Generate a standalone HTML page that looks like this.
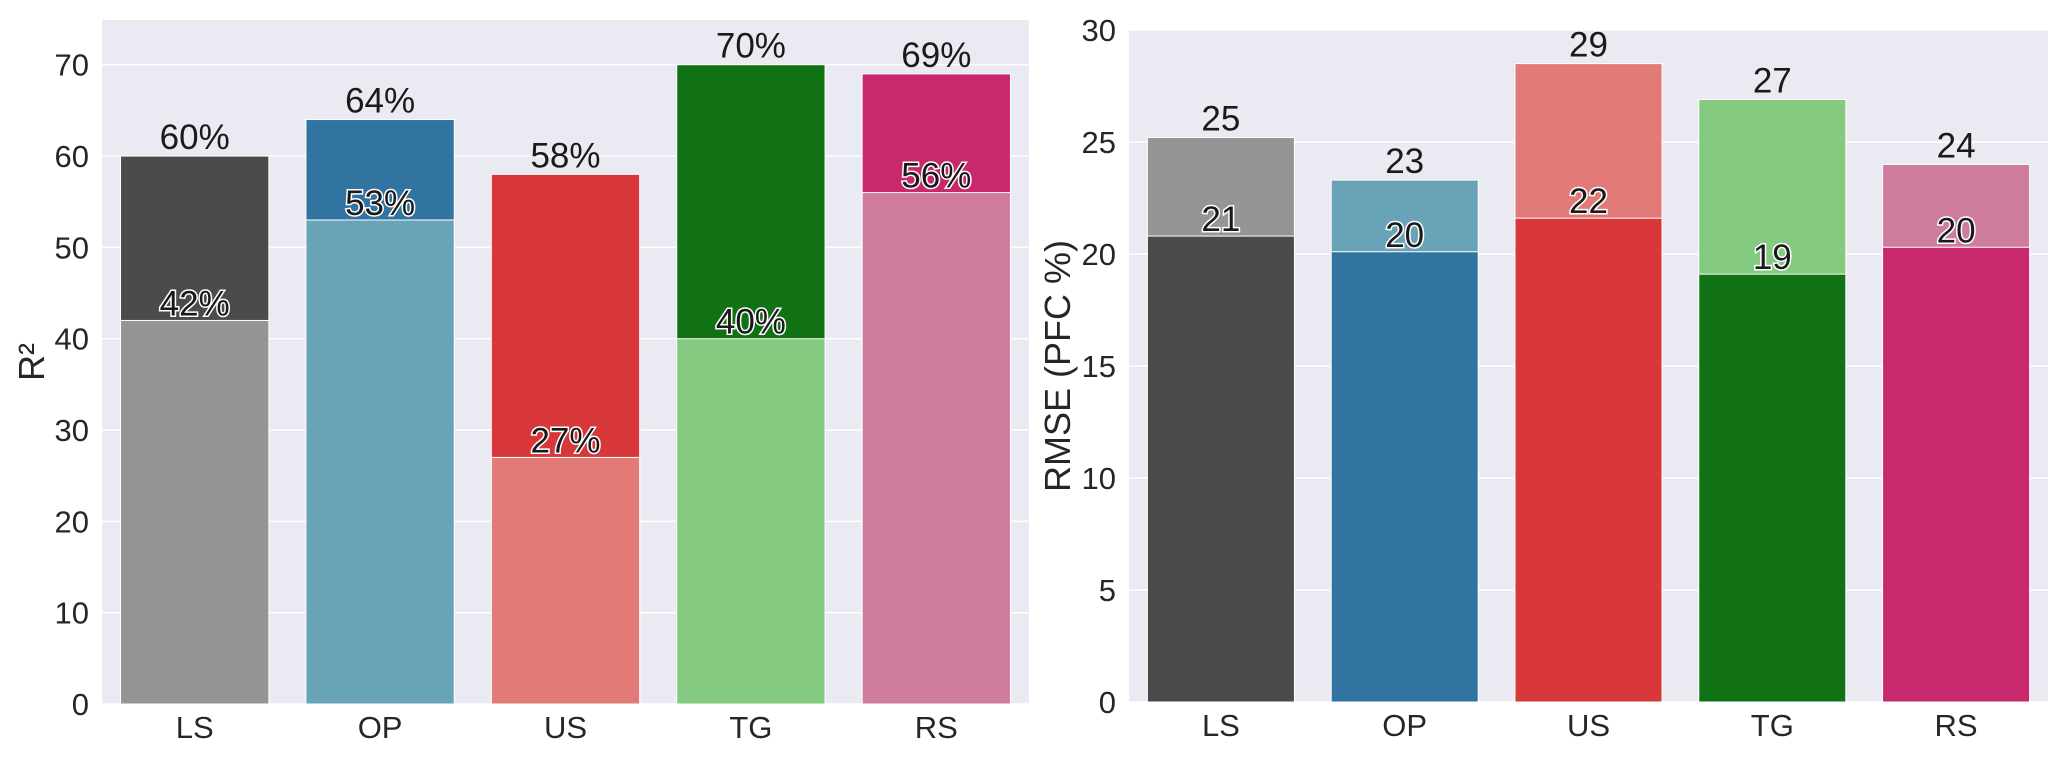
<!DOCTYPE html>
<html><head><meta charset="utf-8"><style>
html,body{margin:0;padding:0;background:#fff;}
svg{display:block;font-family:"Liberation Sans",Arial,sans-serif;}
</style></head><body>
<svg id="chart" width="2067" height="757" viewBox="0 0 2067 757" xmlns="http://www.w3.org/2000/svg"></svg>
<script>
const categories = ["LS","OP","US","TG","RS"];
const r2Top = [60,64,58,70,69];
const r2Bottom = [42,53,27,40,56];
const rmseTall = [25.2,23.3,28.5,26.9,24.0];
const rmseShort = [20.8,20.1,21.6,19.1,20.3];
const r2Ticks = [0,10,20,30,40,50,60,70];
const rmseTicks = [0,5,10,15,20,25,30];

const darkColors = ["#4b4b4b","#3274a1","#d9383a","#107214","#c8286c"];
const lightColors = ["#959595","#69a3b7","#e27b78","#84ca81","#cf7c9e"];
const NS="http://www.w3.org/2000/svg";
const svg=document.getElementById('chart');
function mk(tag,attrs,parent){const e=document.createElementNS(NS,tag);for(const k in attrs)e.setAttribute(k,attrs[k]);(parent||svg).appendChild(e);return e;}

function panel(p){
  const g=mk('g',{});
  
  
  const W=p.x1-p.x0,H=p.yb-p.yt;
  const y=v=>p.yb-(v/p.ymax)*H;
  const slot=W/categories.length;
  const xc=i=>p.x0+slot*(i+0.5);
  const bg=mk('rect',{x:p.x0,y:p.yt,width:W,height:H,fill:'#eaeaf2'},g);
  
  
  p.ticks.forEach(t=>{
    const ln=mk('line',{x1:p.x0,x2:p.x1,y1:y(t),y2:y(t),stroke:'#fff','stroke-width':1.5},g);
    
    
    const tx=mk('text',{x:p.x0-13,y:y(t)+11,'font-size':31,'text-anchor':'end',fill:'#262626'},g);
    tx.textContent=t;
    
    
  });
  const bw=slot*0.8;
  categories.forEach((c,i)=>{
    const x=xc(i)-bw/2;
    const hi=p.back[i], lo=p.front[i];
    const r1=mk('rect',{x:x,y:y(hi),width:bw,height:p.yb-y(hi),fill:p.backCol[i],stroke:'#fff','stroke-width':1},g);
    
    
    const r2=mk('rect',{x:x,y:y(lo),width:bw,height:p.yb-y(lo),fill:p.frontCol[i],stroke:'#fff','stroke-width':1},g);
    
    
    const t1=mk('text',{x:xc(i),y:y(hi)-7,'font-size':35,'text-anchor':'middle',fill:'#1a1a1a'},g);
    t1.textContent=Math.round(hi)+p.suffix;
    
    
    const t2=mk('text',{x:xc(i),y:y(lo)-5,'font-size':35,'text-anchor':'middle',fill:'#1a1a1a',stroke:'#fff','stroke-width':3,'paint-order':'stroke'},g);
    t2.textContent=Math.round(lo)+p.suffix;
    
    
    const xl=mk('text',{x:xc(i),y:p.yb+34,'font-size':31,'text-anchor':'middle',fill:'#262626'},g);
    xl.textContent=c;
    
    
  });
  const at=mk('text',{x:0,y:0,'font-size':36,'text-anchor':'middle',fill:'#262626',transform:`translate(${p.titleX},${(p.yt+p.yb)/2}) rotate(-90)`},g);
  at.textContent=p.title;
  
  
}
panel({name:'r2-panel',x0:102,x1:1029,yt:20,yb:704,ymax:74.9,ticks:r2Ticks,back:r2Top,front:r2Bottom,backCol:darkColors,frontCol:lightColors,backName:'full',frontName:'partial',suffix:'%',title:'R²',titleX:44});
panel({name:'rmse-panel',x0:1129,x1:2048,yt:30,yb:702,ymax:30,ticks:rmseTicks,back:rmseTall,front:rmseShort,backCol:lightColors,frontCol:darkColors,backName:'partial',frontName:'full',suffix:'',title:'RMSE (PFC %)',titleX:1070});
</script>
</body></html>
